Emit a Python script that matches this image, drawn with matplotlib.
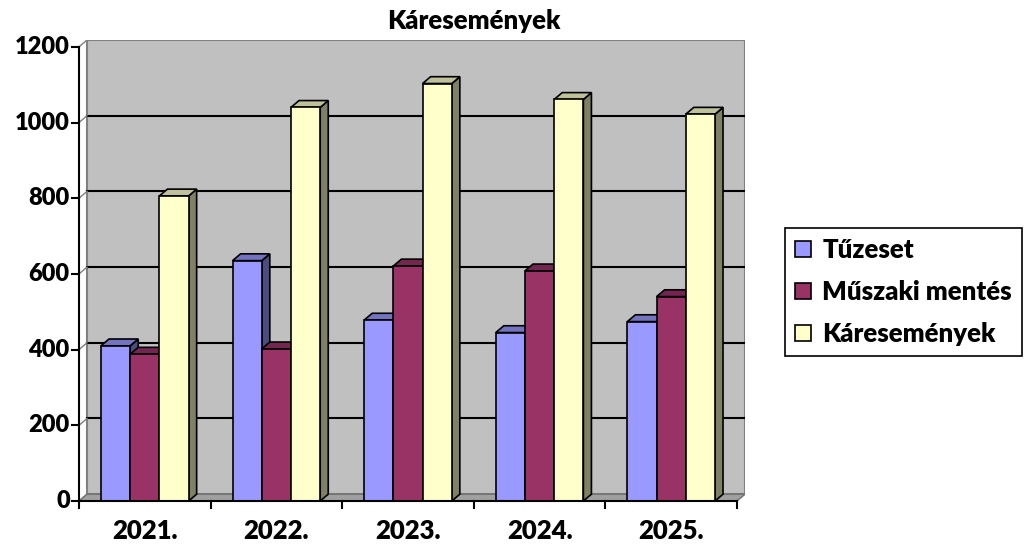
import matplotlib
matplotlib.use("Agg")
import matplotlib.pyplot as plt
from matplotlib.patches import Polygon, Patch

plt.rcParams["font.family"] = ["Lato", "DejaVu Sans"]
plt.rcParams["font.weight"] = "heavy"

# data
years = ["2021.", "2022.", "2023.", "2024.", "2025."]
series = ["Tűzeset", "Műszaki mentés", "Káresemények"]
tuzeset = [410, 635, 478, 445, 474]
muszaki = [388, 402, 621, 608, 540]
karesemenyek = [806, 1040, 1103, 1061, 1022]
yticks = [0, 200, 400, 600, 800, 1000, 1200]

values = [tuzeset, muszaki, karesemenyek]
front = ["#9999FF", "#993366", "#FFFFCC"]
top = ["#7373C0", "#732650", "#C0C09A"]
side = ["#4C4C80", "#4D1A33", "#808066"]

dx, dy = 0.061, 18.0   # depth offset (category units, value units)
w = 0.222               # bar width in category units
ymax = 1200

fig = plt.figure(figsize=(10.26, 5.45), dpi=100)
ax = fig.add_axes([79 / 1026, 44 / 545, 666 / 1026, 461 / 545])
ax.set_xlim(0, len(years) + dx)
ax.set_ylim(0, ymax + dy)
ax.axis("off")

n = len(years)
# side wall, back wall, floor
ax.add_patch(Polygon([(0, 0), (0, ymax), (dx, ymax + dy), (dx, dy)],
                     closed=True, fc="white", ec="#808080", lw=1, zorder=1))
ax.add_patch(Polygon([(dx, dy), (n + dx, dy), (n + dx, ymax + dy), (dx, ymax + dy)],
                     closed=True, fc="#C0C0C0", ec="#808080", lw=1.5, zorder=1))
for v in yticks[1:-1]:
    ax.plot([dx, n + dx], [v + dy, v + dy], color="black", lw=1.5, zorder=2)
    ax.plot([0, dx], [v, v + dy], color="#808080", lw=1, zorder=2)
ax.add_patch(Polygon([(0, 0), (n, 0), (n + dx, dy), (dx, dy)],
                     closed=True, fc="#A0A0A0", ec="#707070", lw=1, zorder=2))

# bars
z = 3
for i in range(n):
    for j, vals in enumerate(values):
        x0 = i + 0.5 - 1.5 * w + j * w
        x1 = x0 + w
        h = vals[i]
        ax.add_patch(Polygon([(x1, 0), (x1 + dx, dy), (x1 + dx, h + dy), (x1, h)],
                             closed=True, fc=side[j], ec="black", lw=1.2, zorder=z))
        ax.add_patch(Polygon([(x0, h), (x1, h), (x1 + dx, h + dy), (x0 + dx, h + dy)],
                             closed=True, fc=top[j], ec="black", lw=1.2, zorder=z))
        ax.bar(x0, h, width=w, align="edge", color=front[j], edgecolor="black",
               lw=1.2, zorder=z + 1)
        z += 2

# front axes
ax.plot([0, 0], [0, ymax], color="black", lw=1.5, zorder=50, clip_on=False)
ax.plot([0, n], [0, 0], color="black", lw=1.5, zorder=50, clip_on=False)
for v in yticks:
    ax.plot([-0.055, 0], [v, v], color="black", lw=1.5, zorder=50, clip_on=False)
    ax.text(-0.07, v, str(v), ha="right", va="center", fontsize=17,
            fontweight="heavy", clip_on=False)
for i in range(n + 1):
    ax.plot([i, i], [0, -18], color="black", lw=1.5, zorder=50, clip_on=False)
for i, lab in enumerate(years):
    ax.text(i + 0.5, -78, lab, ha="center", va="center", fontsize=18.5,
            fontweight="heavy", clip_on=False)

fig.text(474 / 1026, 1 - 21 / 545, "Káresemények", ha="center", va="center",
         fontsize=18.5, fontweight="heavy")

handles = [Patch(fc=front[j], ec="black", lw=1.2, label=series[j]) for j in range(3)]
leg = fig.legend(handles=handles, loc="center left",
                 bbox_to_anchor=(785 / 1026, 1 - 292 / 545),
                 fancybox=False, edgecolor="black", framealpha=1,
                 prop={"size": 18.5, "weight": "heavy"},
                 handlelength=0.6, handleheight=0.6, handletextpad=0.45,
                 labelspacing=0.7, borderpad=0.4, borderaxespad=0)
leg.get_frame().set_linewidth(1.2)

fig.savefig("out.png", dpi=100)
